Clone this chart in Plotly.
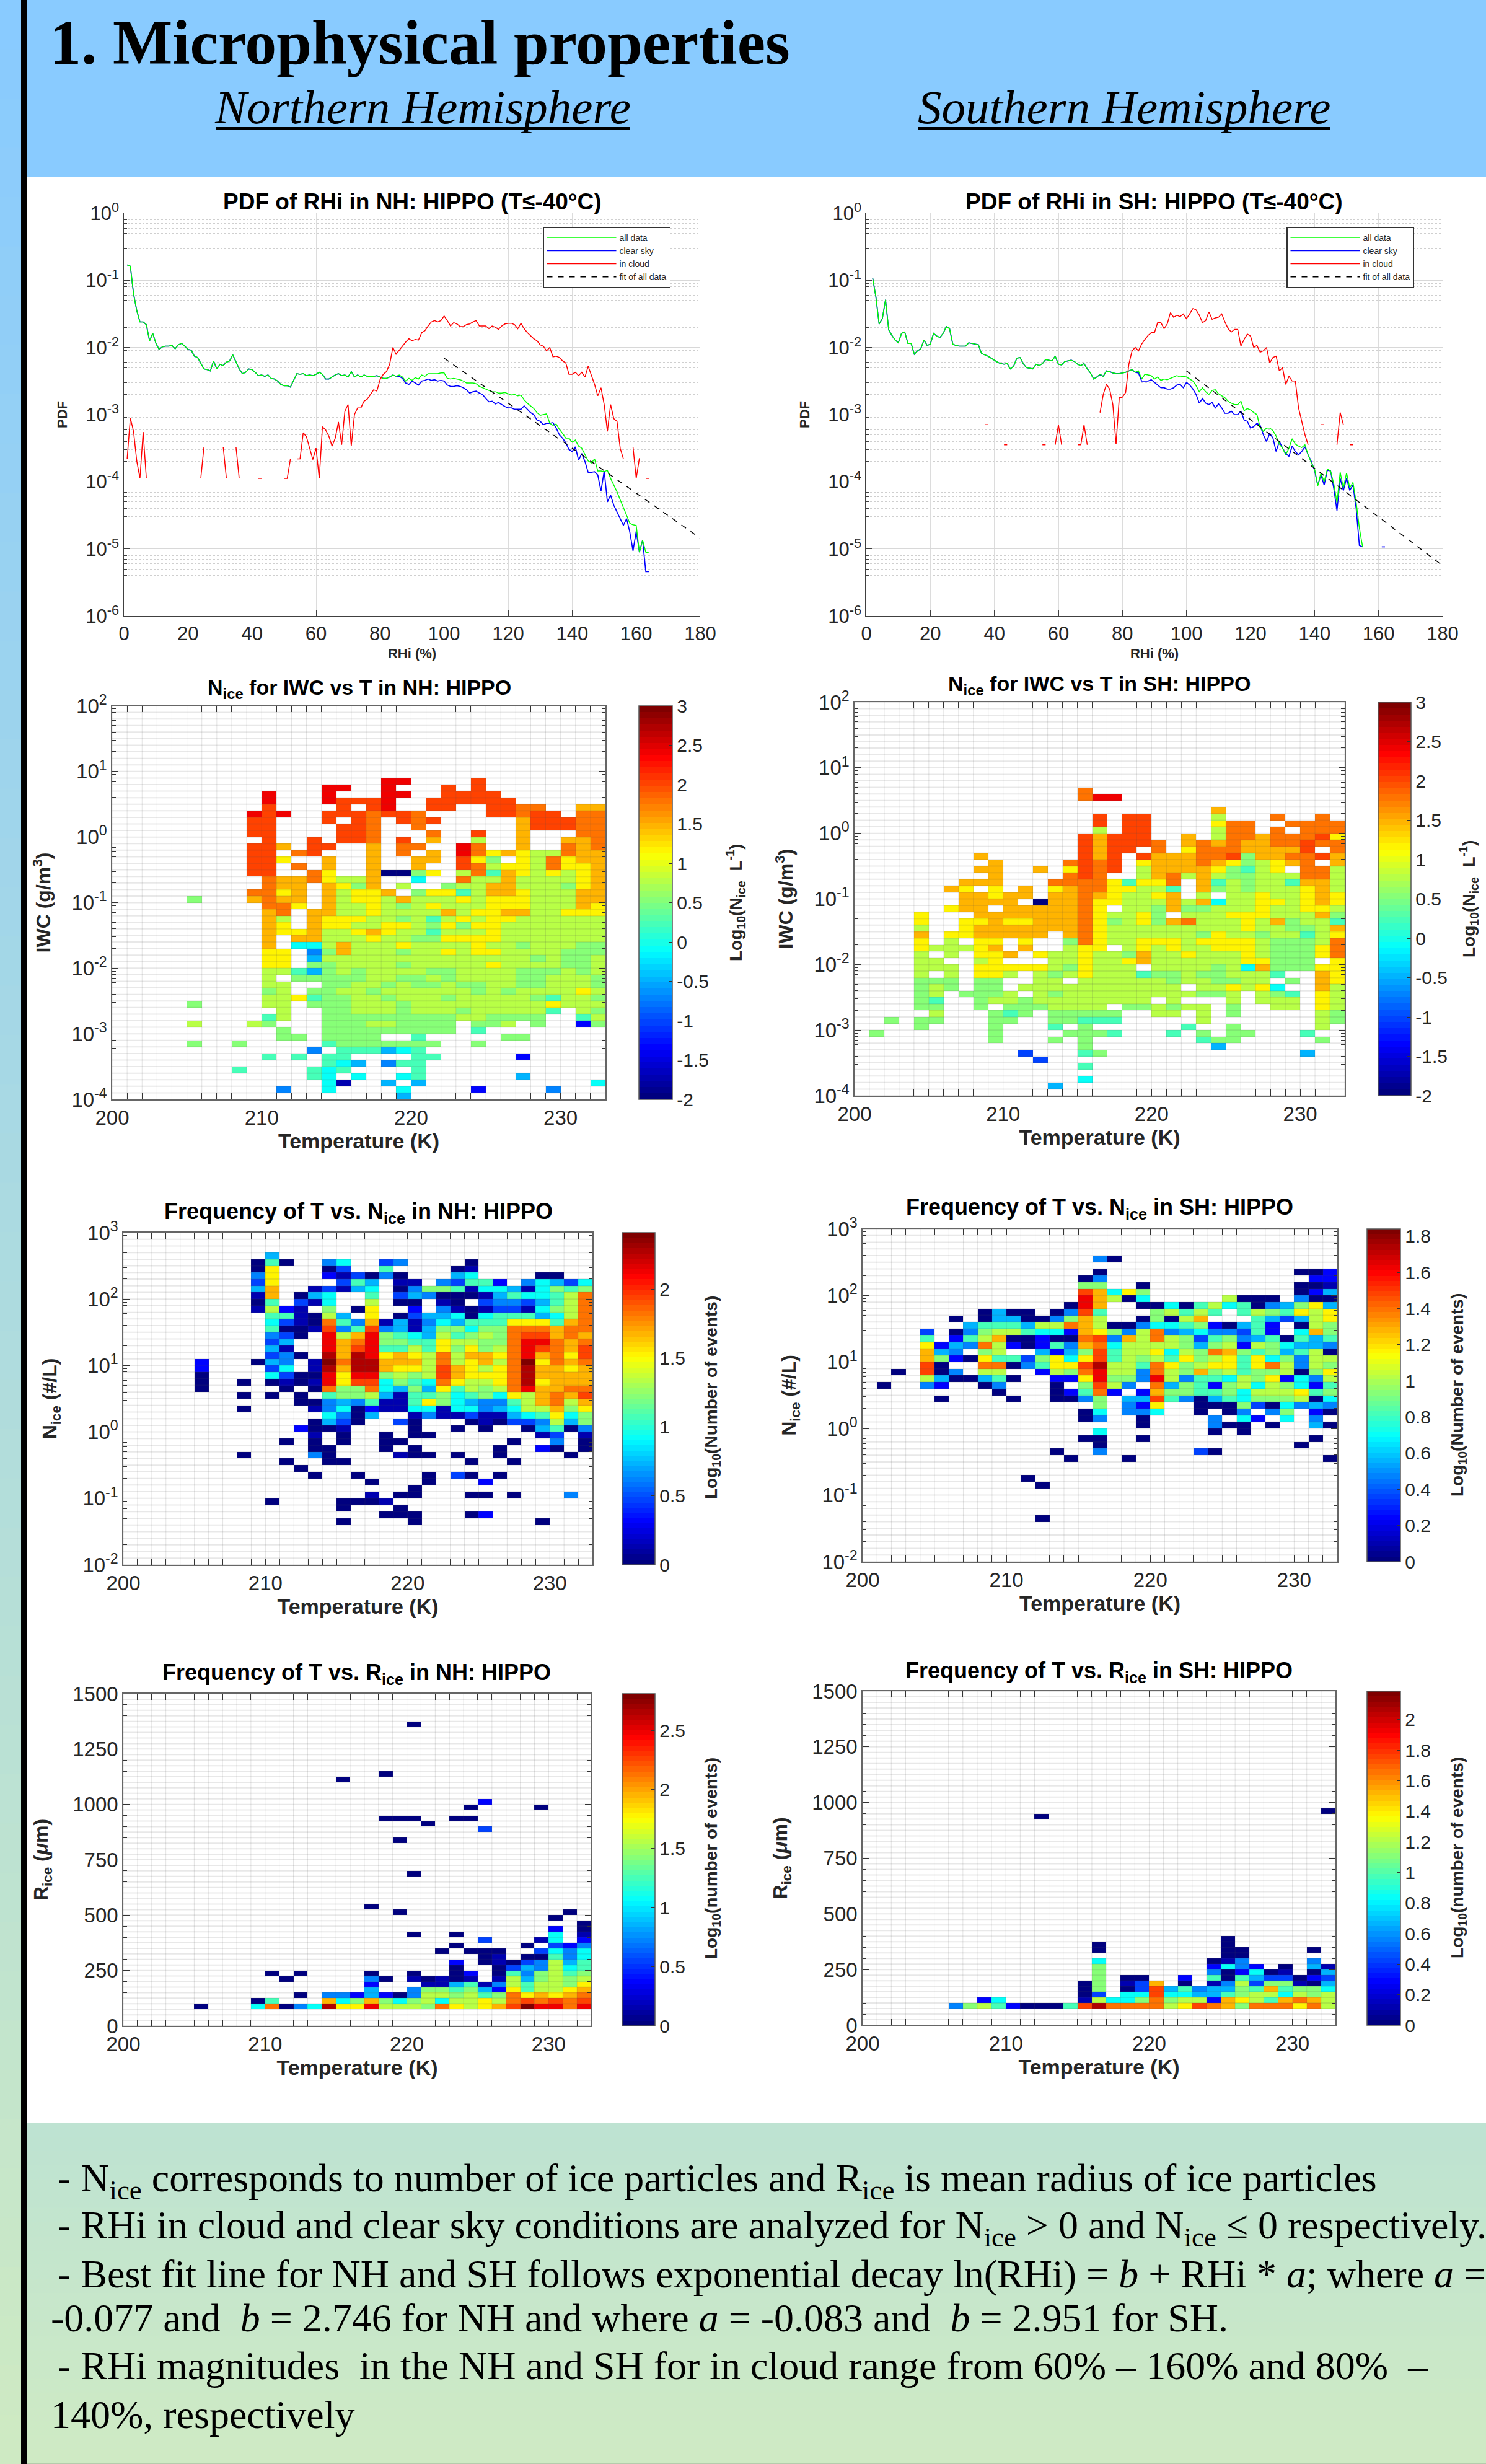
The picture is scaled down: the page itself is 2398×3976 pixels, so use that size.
import re, math
import plotly.graph_objects as go

W, H = 2398, 3976

# ---------------------------- data: PDF of RHi (log10 of the PDF, 1 % bins) -----------------------
ALL_NH_LOG10 = [-.77,-.79,-1.2,-1.45,-1.62,-1.62,-1.66,-1.9,-1.79,-1.94,
 -2.03,-1.99,-1.98,-1.98,-1.97,-2.02,-1.96,-1.94,-1.98,-2.03,
 -2.04,-2.13,-2.15,-2.23,-2.32,-2.33,-2.35,-2.2,-2.32,-2.25,
 -2.27,-2.22,-2.2,-2.11,-2.22,-2.32,-2.39,-2.37,-2.32,-2.33,
 -2.37,-2.42,-2.41,-2.43,-2.41,-2.46,-2.47,-2.5,-2.55,-2.57,
 -2.57,-2.59,-2.49,-2.39,-2.4,-2.39,-2.42,-2.41,-2.42,-2.4,
 -2.37,-2.4,-2.47,-2.47,-2.44,-2.41,-2.39,-2.42,-2.41,-2.44,
 -2.36,-2.44,-2.41,-2.44,-2.41,-2.43,-2.43,-2.43,-2.42,-2.44,
 -2.46,-2.46,-2.44,-2.41,-2.43,-2.41,-2.44,-2.5,-2.46,-2.49,
 -2.45,-2.47,-2.41,-2.43,-2.39,-2.39,-2.39,-2.39,-2.38,-2.38,
 -2.46,-2.47,-2.46,-2.47,-2.48,-2.5,-2.53,-2.53,-2.53,-2.54,
 -2.58,-2.6,-2.62,-2.64,-2.66,-2.66,-2.68,-2.68,-2.67,-2.69,
 -2.71,-2.7,-2.72,-2.71,-2.78,-2.83,-2.87,-2.91,-2.97,-3.01,
 -3.0,-2.99,-3.13,-3.16,-3.14,-3.22,-3.28,-3.35,-3.35,-3.41,
 -3.38,-3.47,-3.5,-3.6,-3.69,-3.72,-3.66,-3.84,-3.84,-3.85,
 -3.83,-3.95,-4.05,-4.15,-4.27,-4.38,-4.5,-4.62,-4.64,-4.65,
 -5.05,-4.87,-5.05,-5.06]
CLEAR_NH_TAIL_LOG10 = [-2.43,-2.43,-2.46,-2.53,-2.55,-2.5,
 -2.53,-2.56,-2.5,-2.49,-2.47,-2.49,-2.48,-2.5,-2.49,-2.5,
 -2.56,-2.58,-2.58,-2.57,-2.58,-2.6,-2.63,-2.68,-2.66,-2.65,
 -2.68,-2.7,-2.76,-2.81,-2.8,-2.84,-2.82,-2.85,-2.88,-2.9,
 -2.9,-2.92,-2.92,-2.92,-2.87,-2.92,-2.97,-3.0,-3.08,-3.1,
 -3.15,-3.13,-3.13,-3.12,-3.2,-3.3,-3.35,-3.42,-3.52,-3.55,
 -3.48,-3.68,-3.58,-3.7,-3.86,-3.86,-3.85,-3.9,-4.14,-3.84,
 -4.3,-4.2,-4.35,-4.45,-4.55,-4.65,-4.55,-4.75,-5.03,-4.74,
 -5.05,-4.87,-5.34,-5.34]
IN_CLOUD_NH = [(1,[-3.66,-3.05,-3.25,-3.69,-3.95,-3.26,-3.95]),(24,[-3.95,-3.48]),(31,[-3.48,-3.95]),
 (35,[-3.48,-3.95]),(42,[-3.95,-3.95]),(50,[-3.95,-3.95,-3.66]),
 (54,[-3.66,-3.66,-3.27,-3.33,-3.5,-3.67,-3.5,-3.95,-3.18,-3.23,-3.32,-3.47,-3.35,-3.11,-3.45,-2.95,-2.85,-3.47,
  -3.0,-2.9,-2.9,-2.8,-2.77,-2.7,-2.63,-2.65,-2.48,-2.4,-2.36,-2.25,-2.0,-2.1,-2.04,-1.97,-1.92,-1.87,-1.9,-1.88,
  -1.89,-1.78,-1.75,-1.68,-1.62,-1.6,-1.62,-1.6,-1.53,-1.6,-1.68,-1.63,-1.65,-1.69,-1.69,-1.66,-1.65,-1.62,-1.6,
  -1.68,-1.68,-1.68,-1.72,-1.68,-1.7,-1.73,-1.68,-1.65,-1.64,-1.64,-1.66,-1.72,-1.64,-1.72,-1.78,-1.83,-1.87,-1.9,
  -1.96,-1.98,-2.05,-2.0,-2.14,-2.13,-2.15,-2.2,-2.23,-2.4,-2.4,-2.37,-2.42,-2.37,-2.44,-2.28,-2.42,-2.55,-2.72,
  -2.6,-2.85,-3.25,-2.85,-3.06,-3.1,-3.5,-3.66]),
 (159,[-3.48,-3.95,-3.65]),(163,[-3.95,-3.95])]
FIT_X = [100, 180]
FIT_NH_LOG10 = [-2.16, -4.84]

ALL_SH_LOG10 = [-.97,-1.25,-1.65,-1.57,-1.29,-1.74,-1.82,-1.89,-1.93,
 -1.79,-1.77,-1.94,-1.94,-2.1,-2.05,-2.02,-1.89,-1.97,-1.95,
 -1.79,-1.83,-1.85,-1.79,-1.69,-1.72,-1.95,-1.97,-1.98,-1.98,
 -1.98,-1.93,-1.94,-1.95,-1.96,-2.09,-2.11,-2.13,-2.16,-2.19,
 -2.22,-2.24,-2.25,-2.24,-2.32,-2.28,-2.16,-2.15,-2.24,-2.3,
 -2.31,-2.32,-2.25,-2.27,-2.24,-2.18,-2.19,-2.2,-2.13,-2.25,
 -2.26,-2.21,-2.2,-2.19,-2.21,-2.25,-2.27,-2.24,-2.32,-2.38,
 -2.47,-2.44,-2.4,-2.43,-2.35,-2.36,-2.38,-2.39,-2.39,-2.38,
 -2.37,-2.35,-2.33,-2.37,-2.35,-2.47,-2.4,-2.41,-2.42,-2.47,
 -2.44,-2.49,-2.47,-2.48,-2.46,-2.44,-2.42,-2.44,-2.43,-2.44,
 -2.47,-2.5,-2.57,-2.66,-2.6,-2.66,-2.7,-2.64,-2.63,-2.69,
 -2.72,-2.75,-2.8,-2.83,-2.85,-2.85,-2.8,-2.94,-2.91,-2.93,
 -2.97,-3.0,-3.19,-3.25,-3.2,-3.2,-3.24,-3.32,-3.44,-3.5,
 -3.6,-3.5,-3.36,-3.44,-3.47,-3.49,-3.45,-3.6,-3.72,-3.81,
 -4.06,-3.87,-4.0,-3.81,-3.84,-4.03,-4.31,-3.86,-4.09,-3.87,
 -4.09,-4.01,-4.31,-4.69,-4.97]
CLEAR_SH_TAIL_LOG10 = [-2.38,-2.5,-2.5,-2.5,-2.48,-2.52,
 -2.56,-2.6,-2.6,-2.62,-2.62,-2.6,-2.56,-2.55,-2.6,-2.52,
 -2.56,-2.62,-2.7,-2.83,-2.76,-2.83,-2.85,-2.82,-2.9,-2.84,
 -2.9,-2.98,-2.98,-2.95,-3.0,-3.0,-2.95,-3.08,-3.1,-3.2,
 -3.18,-3.13,-3.16,-3.3,-3.4,-3.28,-3.35,-3.55,-3.4,-3.5,
 -3.58,-3.62,-3.47,-3.55,-3.6,-3.55,-3.48,-3.6,-3.7,-3.83,
 -4.05,-3.9,-4.05,-3.83,-3.84,-4.1,-4.43,-3.95,-4.13,-3.95,
 -4.13,-4.05,-4.4,-4.95,-4.97]
CLEAR_SH_EXTRA = (161, [-4.97, -4.97])
IN_CLOUD_SH = [(37,[-3.15,-3.15]),(43,[-3.45,-3.45]),(55,[-3.45,-3.45]),(59,[-3.45,-3.15,-3.45]),
 (66,[-3.45,-3.45,-3.15,-3.45]),
 (73,[-2.97,-2.7,-2.55,-2.62,-2.85,-3.44,-2.75,-2.74,-2.67,-2.25,-2.05,-2.0,-2.05,-1.95,-1.88,-1.82,-1.78,-1.78,
  -1.63,-1.63,-1.72,-1.65,-1.48,-1.55,-1.52,-1.54,-1.5,-1.57,-1.5,-1.42,-1.44,-1.52,-1.63,-1.6,-1.47,-1.58,-1.56,
  -1.55,-1.5,-1.62,-1.72,-1.77,-1.73,-1.73,-1.98,-1.88,-1.8,-1.83,-2.0,-1.97,-2.07,-2.05,-2.0,-2.23,-2.15,-2.13,
  -2.35,-2.3,-2.55,-2.43,-2.5,-2.5,-2.9,-3.1,-3.3,-3.45]),
 (142,[-3.15,-3.15]),(147,[-3.45,-2.97,-3.15]),(151,[-3.45,-3.45])]
FIT_SH_LOG10 = [-2.35, -5.25]

# ---------------------------- data: gridded panels -----------------------
# Each cell holds a position on the colour bar: a=bottom of the bar ... q=top of the bar.
LEVELS = {c: f for c, f in zip("abcdefghijklmnopq",
          [0,.06,.125,.19,.25,.31,.375,.44,.5,.56,.625,.69,.75,.81,.875,.94,1])}
TEMPERATURE_EDGES = list(range(200, 234))

IWC_NH = {
48:".......... ........oo ....n..... ...",
47:".......... ....oo..o. ..n.n..... ...",
46:".......... o...o...oo ..nnnn.... ...",
45:".......... o...onnno. .nnnnnn... ...",
44:".......... n....n.no. .nn..nnmm. .ll",
43:".........o no..nnnmnn m....nnmnn .mm",
42:".........n n...n.nm.n mn.....lnn nmm",
41:".........n n....nnm.. m......lnn nmm",
40:".........n n....nnm.. .m..n..l.. .mm",
39:".......... n..n.nnm.n .l..j..l.. llm",
38:".........n nl.nn..l.m m..om..l.. mlm",
37:".........n n.mn...l.m .l.omklkjj mll",
36:".........n nk..l..l.. ll.nki.kjm kll",
35:".........n n.m.l..l.. l..nmjkkjm kkl",
34:".........n n..mk..laa ik.jmhlkjk jkl",
33:".......... mllmkjjl.. g..mjjljjj jkl",
32:".......... mll.lkil.j ..ijjlljjj ikl",
31:".........m mkl.ljkkl. ikkhjllkjj jll",
30:".....i...l mll.ljkkjl jjjkjkkkjj jll",
29:".......... mmk.ljjkji jkjjjkkkjj jlk",
28:".......... lm.lljjkjj jjljkklljj kkk",
27:".......... lj.lkkkjji jhjkjkkjjj jjj",
26:".......... lk.lkkjjkk jikikkjjjj jjj",
25:".......... lkkljjklkj jhjjjkjjjj jjj",
24:".......... l.lljjjkjj iikkkkjjjj jjj",
23:".......... l.ggjljjjk jjjjkjjijj jii",
22:".......... kk.eiljjji jjkjkkjjjj iii",
21:".......... kk.fjjjjjj jjjjjjjjij iij",
20:".......... kk.iijjjji jjjjjkjjjj iij",
19:".......... jjhfijijjj jiijjjjiii jij",
18:".......... j.iiiiijji ijijjjjiij jji",
17:".......... jj..iijjij iijiijjiij jji",
16:".......... ij.iijjijj jjjjijijjj jkj",
15:".......... jjkhiijjij jjijjjjjih jji",
14:".....i.... jj.iiijjji jjjjjjjjjk jjj",
13:".......... .j..iijjji jjjijjjjjh .ji",
12:".......... hj..iiiiii iiijjiiii. .hj",
11:".....j...j i...iiijji iii.iij.i. .ci",
10:".......... .i..iiiiii iii.h..... ...",
9: ".......... .ii.iiii.. h.....ii.. ...",
8: ".....i..i. ....hiiiii ii..i..... ...",
7: ".......... ...e.hhhfg h......... ...",
6: ".......... h.h.hh.... hh.....c.. ...",
5: ".......... ....hgf.eh h......... ...",
4: "........h. ...hgh.... h......... ...",
3: ".......... ...hg.g..g h......f.. ...",
2: ".......... ....gb..f. f......... ..g",
1: ".......... .e..g....g ....c....e ...",
0: ".......... .........f .......... ...",
}
IWC_SH = {
46:"15m", 45:"15m 16o 17o", 43:"24l",
42:"16n 18n 19n 24j 28m 31m",
41:"16n 18n 19n 24k 25m 26m 29m 30m 31m 32m",
40:"16j 18n 19n 24j 25m 26m 28m 30m 31m 32m",
39:"15n 16l 17n 18n 19n 22l 24j 25m 26m 27l 28m 29m 30m 31n 32k",
38:"15n 16l 17n 18n 19n 20m 22l 23m 24l 25m 26l 27l 28m 29m 30n 31m 32m",
37:"15n 16l 17n 18n 20m 22k 23m 24m 25m 26l 27l 28l 29l 30n 32m",
36:"8l 15n 16l 17n 19n 20l 21l 22l 23m 24m 25n 26i 27l 28l 29m 30m 31n 32l",
35:"9l 14m 15n 16m 17n 19k 20l 21l 22l 23m 24l 25k 26i 27j 28k 29l 30m 32l",
34:"8l 9l 12l 14k 15n 16m 17n 19j 20l 21l 22l 23l 24k 25i 26h 27j 28k 30m 31m 32j",
33:"9l 14m 15n 16m 19j 20l 21m 22j 23l 24j 25i 26i 27j 28j 29j 30m 31m 32j",
32:"7l 8l 9l 13m 14m 15m 16m 17k 18h 19k 20k 21m 23l 24h 25j 26i 27j 28j 29h 30l 31l 32j",
31:"6l 7k 9k 11l 13k 14l 15m 16m 17k 18k 19j 20j 21h 23l 24i 25j 26i 27j 28j 29j 30k 31l 32j",
30:"7l 8l 9k 10l 11l 13l 14l 15m 16l 17k 18j 19j 20k 21l 23j 25j 26j 27k 28j 29j 30k 31l 32k",
29:"7l 8l 9l 10l 12a 13l 14l 15m 16k 17k 18j 19j 20j 21l 22j 23l 24g 25j 26j 27k 28k 29j 30k 31l 32k",
28:"6k 7l 8l 10l 11l 12l 13l 14l 15m 16k 18j 19j 20i 21l 22i 23i 24j 25j 26j 27k 28j 29j 30k 31k 32j",
27:"4k 8l 9l 10l 11l 12l 13l 14l 15m 16k 17j 18j 19k 20i 22j 23j 24j 25k 26k 27k 28j 29j 30j 31l 32i",
26:"4k 7k 8k 9l 10k 11k 12l 13l 14l 15m 16k 17i 18j 19k 20i 21l 22m 23j 24j 25j 26k 27j 28l 29i 30j 31j 32h",
25:"4j 7k 8l 9l 10l 11l 12l 13l 14l 15m 16k 17j 18j 19j 20j 21j 22j 23j 24j 25j 26k 27j 28j 29i 30i 31j 32l",
24:"4l 6k 7k 8l 9l 10l 11l 12l 14l 15m 16k 17j 18j 19j 20j 21j 22j 23i 24k 25j 26j 27i 28j 29j 30h 31j 32k",
23:"4k 6j 8k 9k 11k 14i 15m 16k 17j 18j 19k 20k 21k 22j 23k 24k 25k 26k 27j 28i 29i 30i 31j 32m",
22:"4k 5j 6j 7j 8k 9l 11l 14j 15k 16k 18j 19k 20j 21k 22j 23j 24k 25k 26k 27j 28i 29i 30i 31k 32m",
21:"4j 6j 8k 9k 10l 12k 13j 14j 15k 16j 17j 18i 19l 20j 21j 22k 23j 24j 25j 26k 27j 28i 29i 30i 31k 32m",
20:"4j 5j 8j 9k 13j 14j 15k 16j 17j 18k 19l 20j 21j 22j 23j 24j 25j 26k 27k 28i 29i 30i 32k",
19:"4j 5j 6j 8k 9k 10k 11k 12k 13j 14i 15k 16j 17j 18j 20j 21j 22j 23j 24i 25j 26g 27l 28i 29i 30i 31k 32k",
18:"4j 6j 8k 9k 10j 12j 13i 14j 15k 16j 17j 18j 19h 20i 21i 22j 23i 24i 25j 26j 27j 28h 31l 32k",
17:"4i 5i 6i 8i 9i 12j 13j 15j 16j 17j 18j 19j 20j 21i 22j 23j 24i 25i 26j 27j 29i 31l 32k",
16:"4i 5j 6i 8i 9i 11j 12j 13j 14j 15j 16j 17j 18j 19j 20j 21j 23j 24j 25k 26j 27k 28g 31l 32j",
15:"4i 5j 7i 8i 9i 10j 12j 13i 14j 15j 16j 17j 18j 19j 20j 21j 22j 23i 24i 25j 27j 28i 29h 31k 32j",
14:"4i 5h 8i 9j 10j 11i 12j 13j 14j 15j 16j 17j 18j 19j 21j 25j 27j 28j 29j 31k 32j",
13:"4i 5i 8i 10i 11i 12i 13j 14j 15j 16j 18i 19i 20j 21i 22j 23j 25i 28j 29j 31k 32j",
12:"5j 9i 10h 11i 13i 14i 15i 16i 17i 20j 21j 23j 25i 31j 32i",
11:"2i 4i 5i 9i 10i 13i 14i 15h 16h 17h 23j 31j 32i",
10:"4i 9i 13h 15i 22h 25i 31j",
9:"1i 9i 14i 15i 16i 17h 21h 23i 25i 26i 30h",
8:"9i 13i 15i 23h 24i 25i 31i",
7:"15i 24f", 6:"11d 15h 16i 30f", 5:"12d", 4:"15h", 2:"15g", 1:"13f",
}
FREQ_N_NH = {
46:"10f",
45:"9a 10h 11a 14e 15g 18d 19e 24a",
44:"9a 10k 14a 15d 18h 23a 24b",
43:"9e 10k 14c 15b 16d 17a 18e 19a 23f 24g 29a 30a",
42:"9d 10k 15d 16h 17f 19b 20b 22e 23d 24h 25h 26c 28e 29g 30f 31d 32g",
41:"9f 10l 13b 14d 15b 16f 17g 19a 20e 21i 22i 23h 24b 25g 26g 27f 28b 29g 30i 31h 32i",
40:"9b 10l 12a 13f 14g 17h 19d 20f 21e 22a 23a 24a 25b 26f 27h 28g 29g 30h 31j 32m",
39:"9a 10h 12d 13b 14g 17j 19a 20a 22b 23a 25d 26e 27e 28d 29f 30h 31j 32m",
38:"9b 10j 11c 12b 14i 16a 17k 20c 22e 23b 24a 25b 26d 27d 28b 29g 30i 31j 32m",
37:"10h 11h 12b 13a 14j 15f 17k 19a 20d 21f 22f 23g 24a 25g 26h 27h 28h 29f 30g 31j 32m",
36:"10g 11d 12b 13a 14m 15h 16e 17l 18b 19f 20b 21e 22g 23f 24h 25h 26h 27k 28k 29k 30h 31l 32m",
35:"10h 11a 12a 13b 14n 15e 16h 17n 18e 19f 20b 21f 22i 23i 24g 25i 26i 27m 28m 29m 30l 31m 32m",
34:"10e 11d 12a 14o 15j 16l 17o 18i 19h 20g 21f 22j 23h 24i 25j 26i 27m 28n 29n 30l 31m 32l",
33:"10d 11f 14o 15l 16m 17o 18i 19i 20h 21h 22k 23j 24j 25i 26i 27m 28o 29o 30m 31l 32m",
32:"10f 11b 14o 15l 16n 17o 18h 19h 20j 21h 22k 23i 24k 25i 26j 27m 28o 29n 30m 31l 32n",
31:"10d 11e 12a 14p 15l 16p 17o 18k 19l 20k 21j 22m 23j 24l 25l 26k 27m 28o 29l 30m 31k 32n",
30:"5c 9a 10f 11e 13b 14q 15m 16p 17p 18l 19l 20l 21j 22m 23j 24k 25l 26j 27m 28q 29k 30m 31l 32m",
29:"5c 10d 11g 13b 14p 15l 16p 17p 18l 19k 20k 21j 22n 23l 24k 25j 26k 27m 28p 29l 30l 31k 32l",
28:"5a 10g 11d 12a 13a 14o 15k 16o 17o 18i 19j 20i 21j 22n 23l 24k 25k 26k 27m 28p 29l 30l 31l 32l",
27:"5a 8a 10a 11b 12a 13b 14o 15k 16n 17n 18g 19i 20h 21g 22m 23k 24j 25j 26k 27m 28p 29k 30l 31l 32l",
26:"5a 11a 13a 14m 15i 16i 17m 18g 19f 20i 21f 22k 23h 24j 25i 26j 27m 28o 29l 30l 31m 32m",
25:"8a 10a 12a 14h 15i 16i 17j 18f 19b 20h 21h 22i 23g 24h 25i 26g 27k 28j 29l 30m 31l 32n",
24:"12a 13a 14e 15f 16e 17h 18b 19b 20h 21k 22i 23g 24f 25e 26e 27h 28j 29l 30m 31j 32l",
23:"8a 13b 14e 15g 16a 17c 18b 19b 20g 21g 22b 23g 24g 25e 26f 27g 28j 29j 30l 31i 32k",
22:"14g 15e 16a 17f 20b 21e 22b 23b 24d 25b 26b 27f 28g 29h 30k 31g 32i",
21:"13a 14f 15d 16a 19d 20a 24a 25b 26a 27d 28d 29e 30j 31f 32i",
20:"12c 13a 14a 15b 20a 23a 25a 28a 29f 30h 31a 32e",
19:"13b 15a 18a 20a 21a 29b 30d 32b",
18:"11a 13a 15a 18a 19a 27a 30e 32a",
17:"13a 14a 18a 20a 26a 29c 30a 32a",
16:"8a 13e 14a 19b 20a 21a 23a 26a 31a",
15:"11a 14a 15a 24a 27a",
14:"12a", 13:"13a 16a 21a 23d 24a 26a", 12:"17a 21a 25c", 11:"20a",
10:"17b 19a 20a 24a 25a 27a 31e", 9:"10a 15a 16a 17a 18b", 8:"15a 19a",
7:"18a 19a 20a 24a 25c", 6:"15a 20a 29a",
}
FREQ_N_SH = {
45:"16e 17a", 43:"16a 30a 31a 32c", 42:"15a 16e 31c 32c",
41:"15i 16i 19a 30a 31a 32b",
40:"15n 16l 17g 18k 19i 30a 31c 32f",
39:"15o 16l 17j 18a 19g 25j 26a 27a 28a 30e 31a 32a",
38:"14a 15o 16l 19a 20a 21g 22a 23h 24j 25g 26h 27a 28e 29f 30i 31k 32f",
37:"8a 9f 10a 11a 13a 14e 15n 16h 20i 21j 22h 23j 24h 26h 27j 28i 29h 30k 31j 32k",
36:"6a 8a 9f 10f 11a 12a 13e 14i 15l 16j 19a 20i 21a 22j 23l 27h 28f 29d 30f 31j 32k",
35:"7f 8h 9h 10h 11f 12j 13j 14m 15l 16j 17a 18a 19e 20g 21g 22h 23i 24c 25a 26f 27h 28c 30a 31j 32i",
34:"4d 6a 7e 8i 9j 10j 11h 12g 13g 14c 15l 16k 17i 18e 19j 20m 21e 22f 23g 24e 25e 26d 27h 28c 30g 31l 32i",
33:"4h 6c 7h 8j 9l 10a 11a 12c 13a 14a 15m 16n 17e 18l 19j 20m 21j 22i 23d 24h 25i 26e 27f 28h 29a 30h 31f 32h",
32:"4k 5c 6f 7e 8m 9j 10c 11a 12c 13h 14e 15l 16m 17g 18j 19j 20j 21j 22i 23f 24i 25j 26c 27j 28i 29g 30f 31f 32e",
31:"4l 5f 6e 8i 9j 12f 13c 14f 15i 16n 17h 18j 19j 20k 21g 22j 23i 24m 25l 26i 27h 28i 29f 30h 31j 32a",
30:"4l 5i 6c 7a 8k 9h 10h 11d 12i 13k 14g 15k 16n 17h 18j 19i 20j 21h 22k 23i 24j 25k 26h 27k 28g 29i 30e 31j 32j",
29:"4n 5a 8m 9m 10a 11e 12h 13k 14k 15n 16p 17j 18j 19h 20m 21k 22i 23j 24k 25k 26h 27k 28m 29j 30e 31j 32i",
28:"2a 4n 5a 6e 8j 9j 12c 13j 14i 15m 16o 17j 18j 19e 20m 21j 22i 23l 24i 25j 26h 27i 28i 29j 30a 31i 32k",
27:"4j 5f 6a 7a 8f 9h 10a 13c 14c 15k 16o 17i 18i 19e 20o 21j 22e 23h 24h 25g 26j 27i 28k 29c 30g 31e 32j",
26:"1a 4e 5c 8a 9e 13a 15i 16n 17j 18e 20m 21f 22i 23h 24c 25i 26j 27g 28j 29i 30g 31c 32h",
25:"9a 13a 14c 15h 16m 17c 19c 20l 21i 22i 23h 24h 25i 26g 27j 28j 29j 30k 31h 32i",
24:"5a 10a 13a 14a 15e 16i 18f 19f 20n 21h 22e 23a 24f 25h 26g 27i 28i 29i 30j 31a 32g",
23:"16i 18e 19c 20k 23a 24a 25a 26i 27d 28a 29g 30e 31f 32e",
22:"15a 16g 18e 19e 20g 23a 25a 26e 28e 29i 31c 32a",
21:"15a 16e 19a 24e 26g 27c 29g 31e",
20:"19a 24e 25a 26a 28a 31f 32a",
19:"16g 24a 26a", 18:"15a 16a 19a 31a", 17:"16a 30a",
16:"13a 16e 23d 24a", 15:"14a 18a 32a", 12:"11a", 11:"12a", 6:"12a",
}
FREQ_R_NH = {
54:"20a", 45:"18a", 44:"15a", 40:"25c", 39:"24a 29a", 37:"18a 19a 20a 23a 24a",
36:"21a", 35:"25d", 33:"19a", 27:"20a", 21:"17a", 20:"19a 31a", 19:"30a", 18:"32a",
17:"30c 32a", 16:"20a 23a 30g 32b", 15:"25d 29b 30g 32c",
14:"23a 28a 30d 31c 32e", 13:"22a 24a 25a 26a 29d 30g 31e 32g",
12:"25a 26b 28a 29a 30h 31e 32g", 11:"23c 25a 26b 27a 28d 29e 30j 31f 32h",
10:"23a 26a 27d 28f 29e 30j 31g 32h",
9:"10a 12a 17a 20a 23a 24c 26a 27h 28e 29i 30j 31h 32i",
8:"11a 17e 18a 20b 21a 22b 23a 24b 26b 27j 28f 29i 30j 31i 32j",
7:"17c 21b 22b 23f 24h 25b 26e 27j 28h 29j 30j 31i 32k",
6:"17f 20e 21i 22i 23h 24i 25f 26c 27k 28h 29j 30j 31k 32l",
5:"12a 14e 15e 16c 17f 18c 19a 20e 21j 22j 23i 24j 25h 26i 27m 28k 29l 30k 31l 32m",
4:"9a 10h 14l 15g 16i 17l 18i 19g 20i 21j 22g 23j 24j 25k 26j 27m 28n 29m 30n 31m 32n",
3:"5a 9g 10m 11a 12e 13g 14p 15k 16k 17o 18j 19j 20j 21i 22m 23k 24j 25k 26l 27n 28q 29o 30o 31m 32o",
}
FREQ_R_SH = {
38:"32a", 37:"12a", 15:"25a", 14:"16a 25a", 13:"16a 25a 26a 31a", 12:"25a 26a",
11:"16g 24a 25b 26e 31e",
10:"16i 24c 25g 26e 27c 29a 31f 32b",
9:"16i 24e 25a 26c 27g 28a 29b 31a 32f",
8:"16i 18a 19a 22c 24h 25a 26h 27f 28d 29d 30a 31c 32d",
7:"15a 16i 18b 19d 20l 22a 24b 25e 26j 27d 28i 29i 30b 31a 32f",
6:"15a 16i 18a 19d 20n 21f 22h 23e 24f 25f 26i 27h 28l 29h 30i 31i 32g",
5:"15a 16d 18g 19g 20n 21g 22g 23f 24f 25h 26i 27j 28j 29g 30j 31i 32j",
4:"8c 9g 15b 16j 17g 18g 19i 20m 21i 22j 23j 24c 25l 26k 27j 28h 29l 30m 31l 32j",
3:"6e 7i 8j 9h 10c 11a 12a 13a 14h 15n 16p 17m 18m 19m 20m 21j 22k 23n 24m 25l 26i 27m 28m 29m 30k 31m 32j",
}

BODY_LINES = [
 "- N<sub>ice</sub> corresponds to number of ice particles and R<sub>ice</sub> is mean radius of ice particles",
 "- RHi in cloud and clear sky conditions are analyzed for N<sub>ice</sub> &gt; 0 and N<sub>ice</sub> ≤ 0 respectively.",
 "- Best fit line for NH and SH follows exponential decay ln(RHi) = <i>b</i> + RHi * <i>a</i>; where <i>a</i> =",
 "-0.077 and  <i>b</i> = 2.746 for NH and where <i>a</i> = -0.083 and  <i>b</i> = 2.951 for SH.",
 "- RHi magnitudes  in the NH and SH for in cloud range from 60% – 160% and 80%  –",
 "140%, respectively",
]

# ---------------------------- styling helpers -----------------------
SANS = "Liberation Sans"
SERIF = "Liberation Serif"
INK = "#262626"

def px(x): return x / W
def py(y): return 1 - y / H

def jet(f):
    def ramp(c):
        return max(0.0, min(1.0, 1.5 - abs(4 * f - c)))
    return "rgb(%d,%d,%d)" % (255 * ramp(3), 255 * ramp(2), 255 * ramp(1))

JET = []
for i in range(64):
    JET += [[i / 64, jet(i / 63)], [(i + 1) / 64, jet(i / 63)]]

def mix(a, b, t):
    return "rgb(%d,%d,%d)" % tuple(a[i] + (b[i] - a[i]) * t for i in range(3))

def log_span(v):
    return [10 ** x for x in v]

def decode(rows, vmin, vmax, nrows):
    z = [[None] * 33 for _ in range(nrows)]
    for r, txt in rows.items():
        if re.search(r"\d", txt):
            for col, code in re.findall(r"(\d+)([a-q])", txt):
                z[r][int(col)] = vmin + LEVELS[code] * (vmax - vmin)
        else:
            for c, code in enumerate(txt.replace(" ", "")[:33]):
                if code != ".":
                    z[r][c] = vmin + LEVELS[code] * (vmax - vmin)
    return z

def sup10(e):
    return "10<sup>%d</sup>" % e

fig = go.Figure()
shapes, annotations = [], []

def rect(x0, y0, x1, y1, color):
    shapes.append(dict(type="rect", xref="paper", yref="paper", x0=px(x0), x1=px(x1), y0=py(y0), y1=py(y1),
                       fillcolor=color, line=dict(width=0), layer="below"))

# backgrounds
rect(0, 0, W, H, "#ffffff")
STEPS = 50
for i in range(STEPS):
    t = i / STEPS
    rect(0, H * t, 34, H * (t + 1 / STEPS) + 1, mix((137, 203, 255), (208, 235, 194), t))
rect(34, 0, 44, H, "#000000")
rect(44, 0, W, 285, "#89CBFF")
for i in range(24):
    t = i / 24
    y0 = 3425 + (H - 3425) * t
    rect(44, y0, W, y0 + (H - 3425) / 24 + 1, mix((190, 227, 210), (208, 235, 196), t))
rect(44, 3974, W, H, "#b4ccab")

def text(s, x, y, size, family=SANS, bold=False, xanchor="center", yanchor="middle", angle=0, color="#000000"):
    annotations.append(dict(text=("<b>%s</b>" % s) if bold else s, x=px(x), y=py(y), xref="paper", yref="paper",
                            showarrow=False, xanchor=xanchor, yanchor=yanchor, textangle=angle,
                            font=dict(family=family, size=size, color=color)))

text("1. Microphysical properties", 78, 127, 102, SERIF, True, "left", "bottom")
text("<i>Northern Hemisphere</i>", 682, 218, 77, SERIF, False, "center", "bottom")
text("<i>Southern Hemisphere</i>", 1814, 218, 77, SERIF, False, "center", "bottom")
for a, b in ((348, 1016), (1482, 2146)):
    shapes.append(dict(type="line", xref="paper", yref="paper", x0=px(a), x1=px(b), y0=py(207), y1=py(207),
                       line=dict(color="#000000", width=4)))

BODY_Y = [3561, 3637, 3707, 3778, 3855, 3934]
BODY_X = [91, 91, 91, 80, 91, 80]
for line, by, bx in zip(BODY_LINES, BODY_Y, BODY_X):
    text(line, bx, by, 64, SERIF, False, "left", "bottom")

# ---------------------------- PDF panels -----------------------
def pdf_panel(n, box, all_v, all_start, clear_v, clear_extra, cloud, fit, title, tx, legend_box):
    xa, ya = ("x%d" % n), ("y%d" % n)
    lname = "legend" if n == 1 else "legend%d" % n
    all_x = list(range(all_start, all_start + len(all_v)))
    clear_x = list(range(all_start, all_start + len(clear_v)))
    clear_y = log_span(clear_v)
    if clear_extra:
        clear_x += [None] + list(range(clear_extra[0], clear_extra[0] + len(clear_extra[1])))
        clear_y += [None] + log_span(clear_extra[1])
    cx, cy = [], []
    for start, seg in cloud:
        cx += list(range(start, start + len(seg))) + [None]
        cy += log_span(seg) + [None]
    common = dict(mode="lines", xaxis=xa, yaxis=ya, legend=lname, hoverinfo="skip")
    fig.add_trace(go.Scatter(x=clear_x, y=clear_y, name="clear sky", line=dict(color="#0000FF", width=1.7), legendrank=2, **common))
    fig.add_trace(go.Scatter(x=all_x, y=log_span(all_v), name="all data", line=dict(color="#00FF00", width=1.5), legendrank=1, **common))
    fig.add_trace(go.Scatter(x=cx, y=cy, name="in cloud", line=dict(color="#FF0000", width=1.5), legendrank=3, **common))
    fig.add_trace(go.Scatter(x=FIT_X, y=log_span(fit), name="fit of all data", line=dict(color="#000000", width=1.5, dash="dash"), legendrank=4, **common))
    l, t, r, b = box
    fig.layout["xaxis%d" % n] = dict(domain=[px(l), px(r)], anchor=ya, range=[0, 180], tickvals=list(range(0, 181, 20)),
        ticks="inside", ticklen=9, tickcolor="#404040", showline=True, linecolor="#404040", linewidth=1.5,
        tickfont=dict(family=SANS, size=31, color=INK), gridcolor="#dcdcdc", gridwidth=1.2, zeroline=False,
        title=dict(text="<b>RHi (%)</b>", font=dict(family=SANS, size=22, color=INK), standoff=8), automargin=False)
    fig.layout["yaxis%d" % n] = dict(domain=[py(b), py(t)], anchor=xa, type="log", range=[-6, 0],
        tickvals=[10 ** e for e in range(-6, 1)], ticktext=[sup10(e) for e in range(-6, 1)],
        ticks="inside", ticklen=9, tickcolor="#404040", showline=True, linecolor="#404040", linewidth=1.5,
        tickfont=dict(family=SANS, size=31, color=INK), gridcolor="#d8d8d8", gridwidth=1.2, zeroline=False,
        minor=dict(tickvals=[m * 10.0 ** e for e in range(-6, 0) for m in range(2, 10)], ticks="inside", ticklen=5,
                   tickcolor="#404040", showgrid=True, gridcolor="#cfcfcf", griddash="dot", gridwidth=1),
        title=dict(text="<b>PDF</b>", font=dict(family=SANS, size=22, color=INK), standoff=24), automargin=False)
    fig.layout[lname] = dict(x=px(legend_box[0]), y=py(legend_box[1]), xanchor="left", yanchor="top",
        bgcolor="#ffffff", bordercolor="#333333", borderwidth=1.5, itemwidth=112,
        font=dict(family=SANS, size=14, color=INK), tracegroupgap=0)
    text(title, tx, 325, 37, SANS, True)

pdf_panel(1, (200, 344, 1130, 994), ALL_NH_LOG10, 1, ALL_NH_LOG10[:84] + CLEAR_NH_TAIL_LOG10, None, IN_CLOUD_NH,
          FIT_NH_LOG10, "PDF of RHi in NH: HIPPO (T≤-40°C)", 665, (876, 366))
pdf_panel(2, (1398, 344, 2328, 994), ALL_SH_LOG10, 2, ALL_SH_LOG10[:83] + CLEAR_SH_TAIL_LOG10, CLEAR_SH_EXTRA, IN_CLOUD_SH,
          FIT_SH_LOG10, "PDF of RHi in SH: HIPPO (T≤-40°C)", 1862, (2076, 366))

# ---------------------------- gridded panels -----------------------
def grid_panel(n, box, cbar, rows, vmin, vmax, cticks, nrows, yedges, ykind, title, tpos, tsize, ylabel, ystand, cb_label, cb_pos):
    xa, ya = ("x%d" % n), ("y%d" % n)
    l, t, r, b = box
    z = decode(rows, vmin, vmax, nrows)
    fig.add_trace(go.Heatmap(x=TEMPERATURE_EDGES, y=yedges, z=z, zmin=vmin, zmax=vmax, colorscale=JET, xaxis=xa, yaxis=ya,
        hoverongaps=False, colorbar=dict(x=px(cbar[0]), xanchor="left", y=py(t), yanchor="top", len=(b - t) / H, lenmode="fraction",
            thickness=cbar[1] - cbar[0], thicknessmode="pixels", xpad=0, ypad=0, outlinecolor="#555555", outlinewidth=1.5,
            tickvals=cticks, ticktext=[("%g" % v) for v in cticks], ticks="inside", ticklen=6, tickcolor="#333333",
            tickfont=dict(family=SANS, size=30, color=INK))))
    vx, vy, hx, hy = [], [], [], []
    for e in TEMPERATURE_EDGES:
        vx += [e, e, None]
        vy += [yedges[0], yedges[-1], None]
    for e in yedges:
        hx += [200, 233, None]
        hy += [e, e, None]
    fig.add_trace(go.Scatter(x=vx, y=vy, mode="lines", line=dict(color="rgba(80,80,80,0.16)", width=1), xaxis=xa, yaxis=ya, showlegend=False, hoverinfo="skip"))
    fig.add_trace(go.Scatter(x=hx, y=hy, mode="lines", line=dict(color="rgba(80,80,80,0.13)", width=2), xaxis=xa, yaxis=ya, showlegend=False, hoverinfo="skip"))
    fig.layout["xaxis%d" % n] = dict(domain=[px(l), px(r)], anchor=ya, range=[200, 233], tickvals=[200, 210, 220, 230],
        ticks="inside", ticklen=10, tickcolor="#333333", showline=True, linecolor="#666666", linewidth=1.5, mirror="ticks",
        showgrid=False, zeroline=False, tickfont=dict(family=SANS, size=33, color=INK),
        minor=dict(dtick=1, ticks="inside", ticklen=10, tickcolor="#333333", showgrid=False),
        title=dict(text="<b>Temperature (K)</b>", font=dict(family=SANS, size=34, color=INK), standoff=2), automargin=False)
    yax = dict(domain=[py(b), py(t)], anchor=xa, ticks="inside", ticklen=10, tickcolor="#333333", showline=True,
        linecolor="#666666", linewidth=1.5, mirror="ticks", showgrid=False, zeroline=False,
        tickfont=dict(family=SANS, size=33, color=INK),
        title=dict(text=ylabel, font=dict(family=SANS, size=32, color=INK), standoff=ystand), automargin=False)
    if ykind == "log":
        lo, hi = round(math.log10(yedges[0])), round(math.log10(yedges[-1]))
        yax.update(type="log", range=[lo, hi], tickvals=[10.0 ** e for e in range(lo, hi + 1)],
                   ticktext=[sup10(e) for e in range(lo, hi + 1)],
                   minor=dict(tickvals=[m * 10.0 ** e for e in range(lo, hi) for m in range(2, 10)], ticks="inside", ticklen=6,
                              tickcolor="#333333", showgrid=False))
    else:
        yax.update(range=[0, 1500], tickvals=list(range(0, 1501, 250)),
                   minor=dict(dtick=50, ticks="inside", ticklen=6, tickcolor="#333333", showgrid=False))
    fig.layout["yaxis%d" % n] = yax
    text(title, tpos[0], tpos[1], tsize, SANS, True)
    text(cb_label, cb_pos[0], cb_pos[1], 28, SANS, True, angle=-90, color=INK)

iwc_edges = [10 ** (-4 + i / 10) for i in range(61)]
n_edges = [10 ** (-2 + i / 10) for i in range(51)]
r_edges = [25 * i for i in range(61)]
t_iwc = [-2, -1.5, -1, -.5, 0, .5, 1, 1.5, 2, 2.5, 3]
nice_lab = "<b>N<sub>ice</sub> (#/L)</b>"
rice_lab = "<b>R<sub>ice</sub> (<i>μ</i>m)</b>"
iwc_lab = "<b>IWC (g/m<sup>3</sup>)</b>"
cb1 = "Log<sub>10</sub>(N<sub>ice</sub>  L<sup>-1</sup>)"
cb2 = "Log<sub>10</sub>(Number of events)"
cb3 = "Log<sub>10</sub>(number of events)"

grid_panel(3, (181, 1139, 977, 1774), (1031, 1085), IWC_NH, -2, 3, t_iwc, 60, iwc_edges, "log",
           "N<sub>ice</sub> for IWC vs T in NH: HIPPO", (580, 1111), 34, iwc_lab, 24, cb1, (1187, 1457))
grid_panel(4, (1379, 1133, 2170, 1768), (2224, 2277), IWC_SH, -2, 3, t_iwc, 60, iwc_edges, "log",
           "N<sub>ice</sub> for IWC vs T in SH: HIPPO", (1774, 1105), 34, iwc_lab, 24, cb1, (2370, 1451))
grid_panel(5, (199, 1989, 956, 2525), (1004, 1057), FREQ_N_NH, 0, 2.41, [0, .5, 1, 1.5, 2], 50, n_edges, "log",
           "Frequency of T vs. N<sub>ice</sub> in NH: HIPPO", (578, 1957), 36, nice_lab, 32, cb2, (1149, 2255))
grid_panel(6, (1392, 1983, 2158, 2520), (2206, 2260), FREQ_N_SH, 0, 1.84, [0, .2, .4, .6, .8, 1, 1.2, 1.4, 1.6, 1.8], 50, n_edges, "log",
           "Frequency of T vs. N<sub>ice</sub> in SH: HIPPO", (1774, 1950), 36, nice_lab, 32, cb2, (2353, 2251))
grid_panel(7, (199, 2733, 954, 3269), (1004, 1057), FREQ_R_NH, 0, 2.81, [0, .5, 1, 1.5, 2, 2.5], 60, r_edges, "lin",
           "Frequency of T vs. R<sub>ice</sub> in NH: HIPPO", (575, 2701), 36, rice_lab, 30, cb3, (1149, 2999))
grid_panel(8, (1392, 2729, 2155, 3268), (2206, 2260), FREQ_R_SH, 0, 2.186, [0, .2, .4, .6, .8, 1, 1.2, 1.4, 1.6, 1.8, 2], 60, r_edges, "lin",
           "Frequency of T vs. R<sub>ice</sub> in SH: HIPPO", (1773, 2698), 36, rice_lab, 30, cb3, (2353, 2998))

fig.update_layout(width=W, height=H, margin=dict(l=0, r=0, t=0, b=0, autoexpand=False), paper_bgcolor="#ffffff", plot_bgcolor="rgba(0,0,0,0)",
                  shapes=shapes, annotations=annotations, showlegend=True)
fig.write_html("out.html", config={"displayModeBar": False},
               post_script="document.body.style.margin='0';document.body.style.overflow='hidden';")
